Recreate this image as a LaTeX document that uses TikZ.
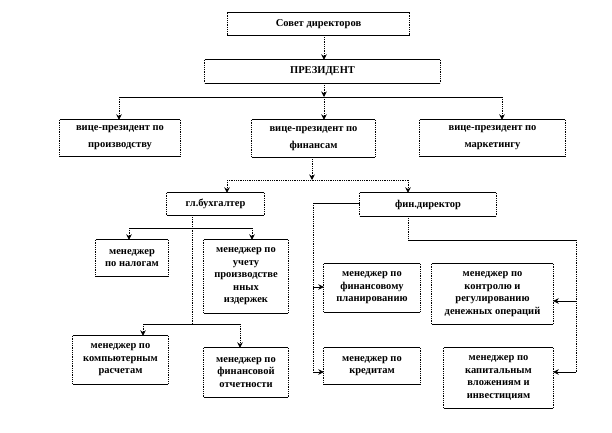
\documentclass[tikz,border=0pt]{standalone}
\usepackage{fontspec}
\setmainfont{Liberation Serif}
\usetikzlibrary{arrows.meta}
\begin{document}
\begin{tikzpicture}[x=1pt,y=-1pt,
  box/.style={fill=white, inner sep=1pt, align=center, font=\bfseries\fontsize{10.5}{12.5}\selectfont},
  vbox/.style={box, font=\bfseries\fontsize{10.5}{17}\selectfont},
  vl/.style={densely dotted, line width=0.8pt},
  hl/.style={line width=0.8pt},
  arr/.style={-{Stealth[length=5.5pt,width=5.5pt]}}
]
\useasboundingbox (0,0) rectangle (612,432);

% boxes
\node[box, minimum width=182pt, minimum height=22pt] (sovet) at (318.5,24) {Совет директоров};
\node[box, minimum width=235pt, minimum height=23pt] (prez) at (322.5,71.5) {ПРЕЗИДЕНТ};
\node[vbox, minimum width=120pt, minimum height=36pt] (vp1) at (120,138) {вице-президент по\\производству};
\node[vbox, minimum width=123pt, minimum height=37pt] (vp2) at (313.5,138.5) {вице-президент по\\финансам};
\node[vbox, minimum width=145pt, minimum height=36pt] (vp3) at (492.5,138) {вице-президент по\\маркетингу};
\node[box, minimum width=97pt, minimum height=22pt] (buh) at (215.5,204) {гл.бухгалтер};
\node[box, minimum width=136pt, minimum height=23pt] (fin) at (428,204.5) {фин.директор};
\node[box, minimum width=72pt, minimum height=36pt] (nal) at (132,258) {менеджер\\по налогам};
\node[box, minimum width=84pt, minimum height=73pt] (uchet) at (246,276.5) {менеджер по\\учету\\производстве\\нных\\издержек};
\node[box, minimum width=95pt, minimum height=48pt] (komp) at (120.5,360) {менеджер по\\компьютерным\\расчетам};
\node[box, minimum width=84pt, minimum height=49pt] (otch) at (246,372.5) {менеджер по\\финансовой\\отчетности};
\node[box, minimum width=96pt, minimum height=48pt] (plan) at (372,288) {менеджер по\\финансовому\\планированию};
\node[box, minimum width=121pt, minimum height=60pt] (kontr) at (492.5,294) {менеджер по\\контролю и\\регулированию\\денежных операций};
\node[box, minimum width=96pt, minimum height=36pt] (kred) at (372,366) {менеджер по\\кредитам};
\node[box, minimum width=109pt, minimum height=60pt] (kap) at (498.5,378) {менеджер по\\капитальным\\вложениям и\\инвестициям};

\foreach \n in {sovet,prez,vp1,vp2,vp3,buh,fin,nal,uchet,komp,otch,plan,kontr,kred,kap}{
  \draw[vl] (\n.north west) -- (\n.south west) (\n.north east) -- (\n.south east);
  \draw[hl] (\n.north west) -- (\n.north east) (\n.south west) -- (\n.south east);
}

% junction coordinates
\coordinate (j0) at (324,97);
\coordinate (jl) at (119,97);
\coordinate (jr) at (502,97);
\coordinate (f0) at (312,180);
\coordinate (fl) at (227,180);
\coordinate (fr) at (408,180);
\coordinate (b0) at (192,228);
\coordinate (bl) at (129,228);
\coordinate (br) at (252,228);
\coordinate (c0) at (192,324);
\coordinate (cl) at (143,324);
\coordinate (cr) at (240,324);
\coordinate (d0) at (313,203);
\coordinate (d1) at (313,287);
\coordinate (d2) at (313,372);
\coordinate (e0) at (408,240);
\coordinate (e1) at (576,240);
\coordinate (e2) at (576,301);
\coordinate (e3) at (576,372);

% top level
\draw[vl,arr] (sovet.south -| j0) -- (prez.north -| j0);
\draw[vl,arr] (prez.south -| j0) -- (j0);
\draw[hl] (jl) -- (jr);
\draw[vl,arr] (jl) -- (vp1.north -| jl);
\draw[vl,arr] (j0) -- (vp2.north -| j0);
\draw[vl,arr] (jr) -- (vp3.north -| jr);

% finance branch
\draw[vl,arr] (vp2.south -| f0) -- (f0);
\draw[vl] (fl) -- (fr);
\draw[vl,arr] (fl) -- (buh.north -| fl);
\draw[vl,arr] (fr) -- (fin.north -| fr);

% accountant branch
\draw[vl] (buh.south -| c0) -- (c0);
\draw[hl] (bl) -- (br);
\draw[vl,arr] (bl) -- (nal.north -| bl);
\draw[vl,arr] (br) -- (uchet.north -| br);
\draw[hl] (cl) -- (cr);
\draw[vl,arr] (cl) -- (komp.north -| cl);
\draw[vl,arr] (cr) -- (otch.north -| cr);

% financial director branch
\draw[hl] (fin.west |- d0) -- (d0);
\draw[vl] (d0) -- (d2);
\draw[hl,arr] (d1) -- (plan.west |- d1);
\draw[hl,arr] (d2) -- (kred.west |- d2);
\draw[vl] (fin.south -| e0) -- (e0);
\draw[hl] (e0) -- (e1);
\draw[vl] (e1) -- (e3);
\draw[hl,arr] (e2) -- (kontr.east |- e2);
\draw[hl,arr] (e3) -- (kap.east |- e3);
\end{tikzpicture}
\end{document}
